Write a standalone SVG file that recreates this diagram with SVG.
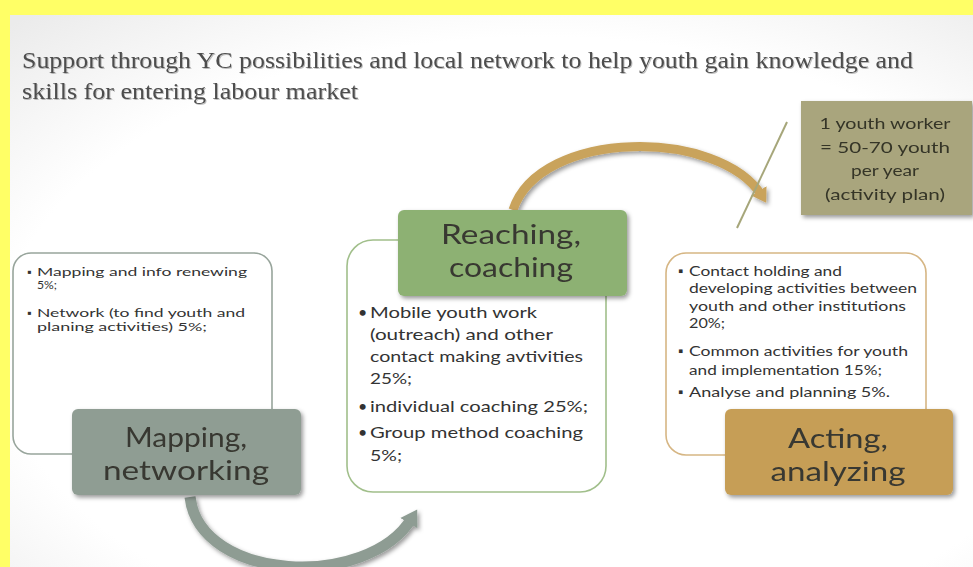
<svg xmlns="http://www.w3.org/2000/svg" width="973" height="567" viewBox="0 0 973 567">
<defs>
<radialGradient id="bg" cx="0.55" cy="0.6" r="0.8">
<stop offset="0.7" stop-color="#ffffff"/>
<stop offset="1" stop-color="#ebebeb"/>
</radialGradient>
<filter id="sh" x="-10%" y="-10%" width="125%" height="130%">
<feDropShadow dx="2" dy="2.5" stdDeviation="2" flood-color="#000" flood-opacity="0.4"/>
</filter>
<filter id="tsh" x="-5%" y="-20%" width="110%" height="150%">
<feDropShadow dx="1" dy="1" stdDeviation="0.6" flood-color="#000" flood-opacity="0.25"/>
</filter>
<marker id="ahGray" markerUnits="userSpaceOnUse" markerWidth="24" markerHeight="24" refX="6" refY="12" orient="auto">
<path d="M0,2 L16,12 L0,22 Z" fill="#8e9c93"/>
</marker>
<marker id="ahGold" markerUnits="userSpaceOnUse" markerWidth="24" markerHeight="24" refX="6" refY="12" orient="auto">
<path d="M0,3 L14,12 L0,21 Z" fill="#c9a35c"/>
</marker>
</defs>
<style>
.title{font-family:"Liberation Serif",serif;font-size:24px;fill:#4e4e4e}
.item{font-family:Lato,"Liberation Sans",sans-serif;fill:#333333}
.s11{font-size:11.5px}
.s135{font-size:13.5px}
.s155{font-size:16px}
.lab{font-family:Lato,"Liberation Sans",sans-serif;font-size:27px;fill:#383830;text-anchor:middle}
.note{font-family:Lato,"Liberation Sans",sans-serif;font-size:15px;fill:#353528;text-anchor:middle}
.frame{fill:#ffffff;stroke-width:1.6}
</style>
<rect x="0" y="0" width="973" height="567" fill="#ffff66"/>
<rect x="10" y="15" width="963" height="552" fill="url(#bg)"/>

<g id="title" filter="url(#tsh)">
<text class="title" x="22" y="68" textLength="891" lengthAdjust="spacingAndGlyphs">Support through YC possibilities  and local network  to help youth gain knowledge  and</text>
<text class="title" x="22" y="99" textLength="336" lengthAdjust="spacingAndGlyphs">skills  for entering labour market</text>
</g>

<g id="connectors">
<path d="M190,497 C200,582 368,590 412,518" fill="none" stroke="#8e9c93" stroke-width="11" marker-end="url(#ahGray)" filter="url(#sh)"/>
<path d="M513,210 C540,128 720,128 762,196" fill="none" stroke="#c9a35c" stroke-width="9" marker-end="url(#ahGold)" filter="url(#sh)"/>
<line x1="787" y1="122" x2="737" y2="228" stroke="#a6a67a" stroke-width="2"/>
</g>

<g id="mapping-list">
<rect class="frame" x="13" y="253" width="259" height="201" rx="18" stroke="#98a59c"/>
<text class="item s11" x="27" y="276">▪</text>
<text class="item s11" x="37" y="276" textLength="210" lengthAdjust="spacingAndGlyphs">Mapping and info renewing</text>
<text class="item s11" x="37" y="289" textLength="20" lengthAdjust="spacingAndGlyphs">5%;</text>
<text class="item s11" x="27" y="317">▪</text>
<text class="item s11" x="37" y="317" textLength="208" lengthAdjust="spacingAndGlyphs">Network (to find youth and</text>
<text class="item s11" x="37" y="331" textLength="170" lengthAdjust="spacingAndGlyphs">planing activities) 5%;</text>
</g>

<g id="mapping" filter="url(#sh)">
<rect x="72" y="409" width="229" height="86" rx="6" fill="#8f9d93"/>
<text class="lab" x="186" y="447" textLength="122" lengthAdjust="spacingAndGlyphs">Mapping,</text>
<text class="lab" x="186" y="480" textLength="166" lengthAdjust="spacingAndGlyphs">networking</text>
</g>

<g id="reaching-list">
<rect class="frame" x="347" y="240" width="259" height="252" rx="26" stroke="#a1bf8b"/>
<text class="item s155" x="358" y="318">•</text>
<text class="item s155" x="370" y="318" textLength="167" lengthAdjust="spacingAndGlyphs">Mobile youth work</text>
<text class="item s155" x="370" y="340" textLength="183" lengthAdjust="spacingAndGlyphs">(outreach) and other</text>
<text class="item s155" x="370" y="362" textLength="213" lengthAdjust="spacingAndGlyphs">contact making  avtivities</text>
<text class="item s155" x="370" y="384" textLength="42" lengthAdjust="spacingAndGlyphs">25%;</text>
<text class="item s155" x="358" y="412">•</text>
<text class="item s155" x="370" y="412" textLength="218" lengthAdjust="spacingAndGlyphs">individual  coaching 25%;</text>
<text class="item s155" x="358" y="438">•</text>
<text class="item s155" x="370" y="438" textLength="213" lengthAdjust="spacingAndGlyphs">Group method  coaching</text>
<text class="item s155" x="370" y="461" textLength="32" lengthAdjust="spacingAndGlyphs">5%;</text>
</g>

<g id="reaching" filter="url(#sh)">
<rect x="398" y="210" width="229" height="86" rx="6" fill="#8db173"/>
<text class="lab" x="511" y="244" textLength="140" lengthAdjust="spacingAndGlyphs">Reaching,</text>
<text class="lab" x="511" y="277" textLength="124" lengthAdjust="spacingAndGlyphs">coaching</text>
</g>

<g id="note" filter="url(#sh)">
<rect x="801" y="101" width="171" height="114" fill="#a9a57d"/>
<text class="note" x="885" y="129" textLength="131" lengthAdjust="spacingAndGlyphs">1 youth worker</text>
<text class="note" x="885" y="153" textLength="130" lengthAdjust="spacingAndGlyphs">= 50-70 youth</text>
<text class="note" x="885" y="176" textLength="68" lengthAdjust="spacingAndGlyphs">per year</text>
<text class="note" x="885" y="200" textLength="120" lengthAdjust="spacingAndGlyphs">(activity  plan)</text>
</g>

<g id="acting-list">
<rect class="frame" x="666" y="253" width="260" height="202" rx="20" stroke="#d6b684"/>
<text class="item s135" x="678" y="276">▪</text>
<text class="item s135" x="689" y="276" textLength="153" lengthAdjust="spacingAndGlyphs">Contact holding and</text>
<text class="item s135" x="689" y="293" textLength="228" lengthAdjust="spacingAndGlyphs">developing activities between</text>
<text class="item s135" x="689" y="311" textLength="217" lengthAdjust="spacingAndGlyphs">youth and other institutions</text>
<text class="item s135" x="689" y="328" textLength="36" lengthAdjust="spacingAndGlyphs">20%;</text>
<text class="item s135" x="678" y="356">▪</text>
<text class="item s135" x="689" y="356" textLength="219" lengthAdjust="spacingAndGlyphs">Common  activities for youth</text>
<text class="item s135" x="689" y="375" textLength="193" lengthAdjust="spacingAndGlyphs">and implementation 15%;</text>
<text class="item s135" x="678" y="397">▪</text>
<text class="item s135" x="689" y="397" textLength="201" lengthAdjust="spacingAndGlyphs">Analyse and planning  5%.</text>
</g>

<g id="acting" filter="url(#sh)">
<rect x="725" y="409" width="228" height="86" rx="6" fill="#c69e57"/>
<text class="lab" x="838" y="448" textLength="100" lengthAdjust="spacingAndGlyphs">Acting,</text>
<text class="lab" x="838" y="481" textLength="135" lengthAdjust="spacingAndGlyphs">analyzing</text>
</g>
</svg>
